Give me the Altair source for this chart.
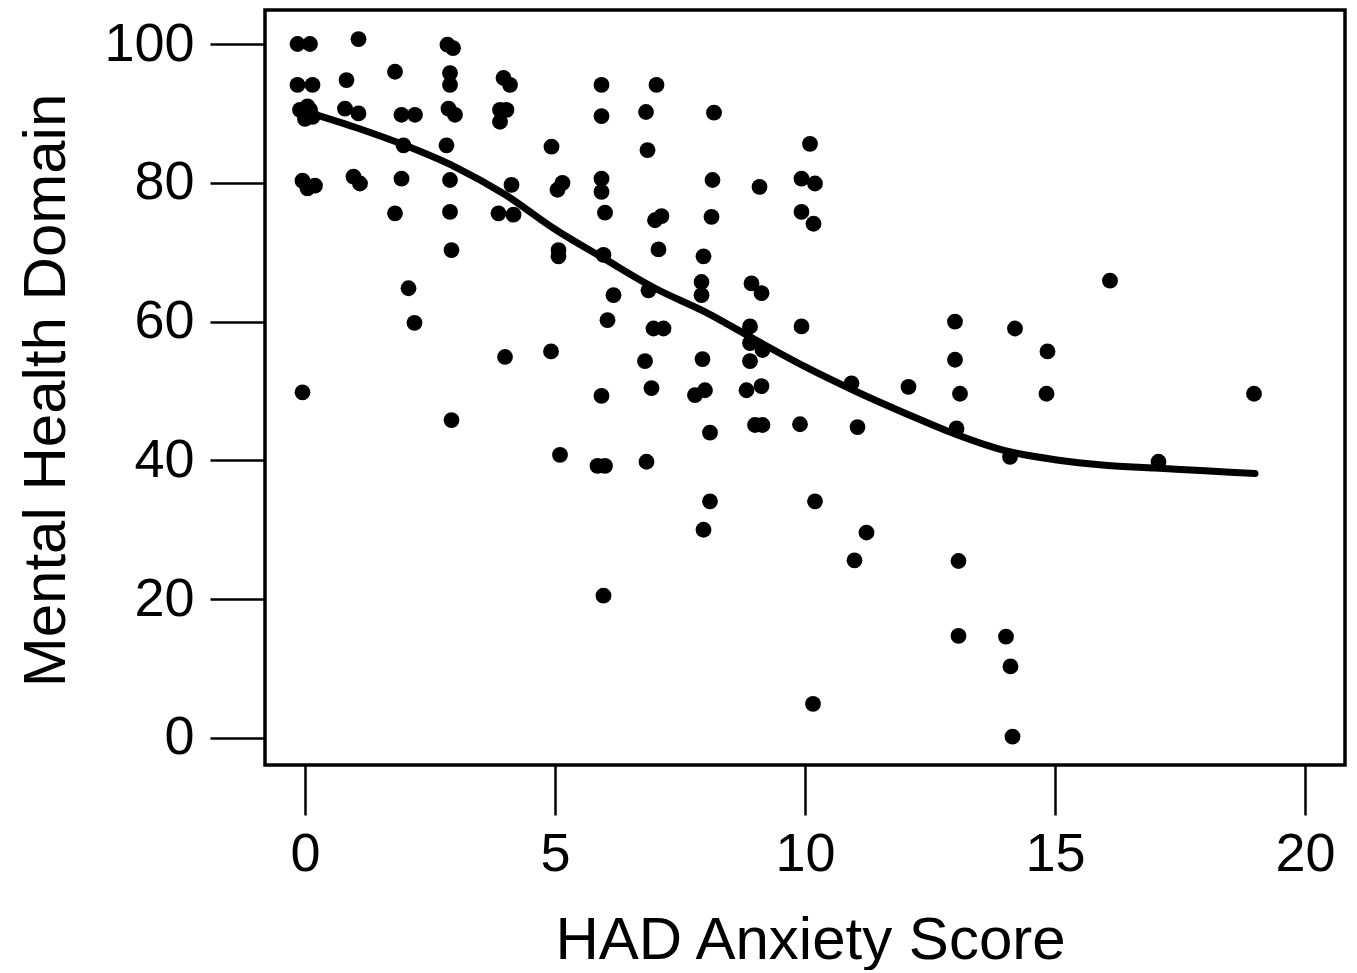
import altair as alt
import pandas as pd

# Scatter points (HAD anxiety score, mental health domain)
had_x = [-0.15, 0.1, -0.15, 0.15, -0.1, 0.1, 0.0, 0.15, 0.05, -0.05, 0.2, 0.05, -0.05,
         1.07, 0.83, 0.8, 1.07, 0.97, 1.1,
         1.8, 1.93, 2.2, 1.97, 1.93, 1.8, 2.07, 2.19,
         2.85, 2.96, 2.9, 2.9, 2.87, 3.0, 2.83, 2.9, 2.9, 2.93, 2.93,
         3.97, 4.1, 3.9, 4.03, 3.9, 4.13, 3.87, 4.17, 4.0,
         4.93, 5.05, 5.15, 5.07, 5.07, 4.92, 5.1,
         5.93, 5.93, 5.93, 5.93, 6.0, 5.97, 6.17, 6.05, 5.93, 5.85, 6.0, 5.97,
         7.03, 6.82, 6.85, 7.0, 7.13, 7.07, 6.87, 6.97, 7.17, 6.8, 6.93, 6.83,
         8.18, 8.15, 8.13, 7.97, 7.93, 7.93, 7.95, 7.8, 8.0, 8.1, 8.1, 7.97,
         9.09, 8.93, 9.13, 8.9, 8.9, 9.15, 8.9, 8.83, 9.13, 9.0, 9.15,
         10.1, 9.93, 10.2, 9.93, 10.17, 9.93, 9.9, 10.2, 10.16,
         10.93, 11.05, 11.23, 10.99,
         12.07,
         13.0, 13.0, 13.1, 13.03, 13.07, 13.07,
         14.2, 14.1, 14.02, 14.11, 14.15,
         14.85, 14.83,
         16.1,
         17.07,
         18.98]
mh_y = [100.0, 100.0, 94.1, 94.1, 90.5, 90.5, 89.2, 89.5, 91.0, 80.3, 79.6, 79.2, 49.8,
        100.7, 94.8, 90.7, 90.0, 80.9, 79.9,
        96.0, 89.8, 89.8, 85.4, 80.6, 75.6, 64.8, 59.8,
        99.9, 99.4, 95.8, 94.1, 90.7, 89.8, 85.4, 80.4, 75.8, 70.3, 45.8,
        95.1, 94.1, 90.5, 90.5, 88.8, 79.7, 75.6, 75.4, 54.9,
        85.2, 79.0, 80.0, 70.3, 69.4, 55.7, 40.8,
        94.1, 89.6, 80.6, 78.7, 75.7, 69.6, 63.8, 60.2, 49.3, 39.2, 39.2, 20.5,
        94.1, 90.2, 84.7, 74.6, 75.2, 70.4, 64.5, 59.0, 59.0, 54.3, 50.4, 39.8,
        90.1, 80.4, 75.1, 69.4, 65.7, 63.8, 54.6, 49.4, 50.1, 44.0, 34.1, 30.0,
        79.4, 65.5, 64.1, 59.3, 56.9, 55.9, 54.3, 50.1, 50.7, 45.1, 45.1,
        85.6, 80.6, 79.9, 75.8, 74.1, 59.3, 45.2, 34.1, 4.9,
        51.1, 44.8, 29.6, 25.6,
        50.6,
        60.0, 54.5, 49.6, 44.6, 25.5, 14.7,
        59.0, 40.5, 14.6, 10.3, 0.2,
        55.7, 49.6,
        65.9,
        39.8,
        49.6]

# Smoothed fit curve
fit_x = [0, 1, 2, 3, 4, 5, 6, 7, 8, 9, 10, 11, 12, 13, 14, 15, 16, 17, 18, 19]
fit_y = [90.3, 88.0, 85.4, 82.3, 78.3, 73.3, 69.0, 64.8, 61.4, 57.4, 53.5, 50.0,
         46.8, 43.8, 41.4, 40.1, 39.3, 38.9, 38.5, 38.1]

x_ticks = [0, 5, 10, 15, 20]
y_ticks = [0, 20, 40, 60, 80, 100]

pts = pd.DataFrame({"x": had_x, "y": mh_y})
fit = pd.DataFrame({"x": fit_x, "y": fit_y})

FONT = "Liberation Sans"

xscale = alt.Scale(domain=[-0.8, 20.8], nice=False, zero=False)
yscale = alt.Scale(domain=[-3.9, 104.9], nice=False, zero=False)

xaxis = alt.Axis(values=x_ticks, title="HAD Anxiety Score", grid=False, domain=False,
                 tickSize=50, tickWidth=2.5, tickColor="black",
                 labelFontSize=54, labelFont=FONT, labelColor="black", labelPadding=12,
                 titleFontSize=60, titleFont=FONT, titleFontWeight="normal", titleColor="black",
                 titleX=545, titleY=193, titleBaseline="alphabetic", titleAlign="center")
yaxis = alt.Axis(values=y_ticks, title="Mental Health Domain", grid=False, domain=False,
                 tickSize=55, tickWidth=2.5, tickColor="black",
                 labelFontSize=54, labelFont=FONT, labelColor="black", labelPadding=16,
                 titleFontSize=60, titleFont=FONT, titleFontWeight="normal", titleColor="black",
                 titleX=-201, titleY=380, titleAngle=-90, titleBaseline="alphabetic",
                 titleAlign="center")

points = alt.Chart(pts).mark_circle(size=250, color="black", opacity=1).encode(
    x=alt.X("x:Q", scale=xscale, axis=xaxis),
    y=alt.Y("y:Q", scale=yscale, axis=yaxis),
)

line = alt.Chart(fit).mark_line(color="black", strokeWidth=7, interpolate="monotone",
                                strokeCap="round").encode(
    x=alt.X("x:Q", scale=xscale),
    y=alt.Y("y:Q", scale=yscale),
)

chart = (points + line).properties(
    width=1080, height=755,
    autosize=alt.AutoSizeParams(type="none"),
    padding={"left": 257, "top": 2, "right": 4, "bottom": 205},
).configure_view(stroke="black", strokeWidth=3.5)

chart.save("out.html", embed_options={"renderer": "svg", "actions": False})
